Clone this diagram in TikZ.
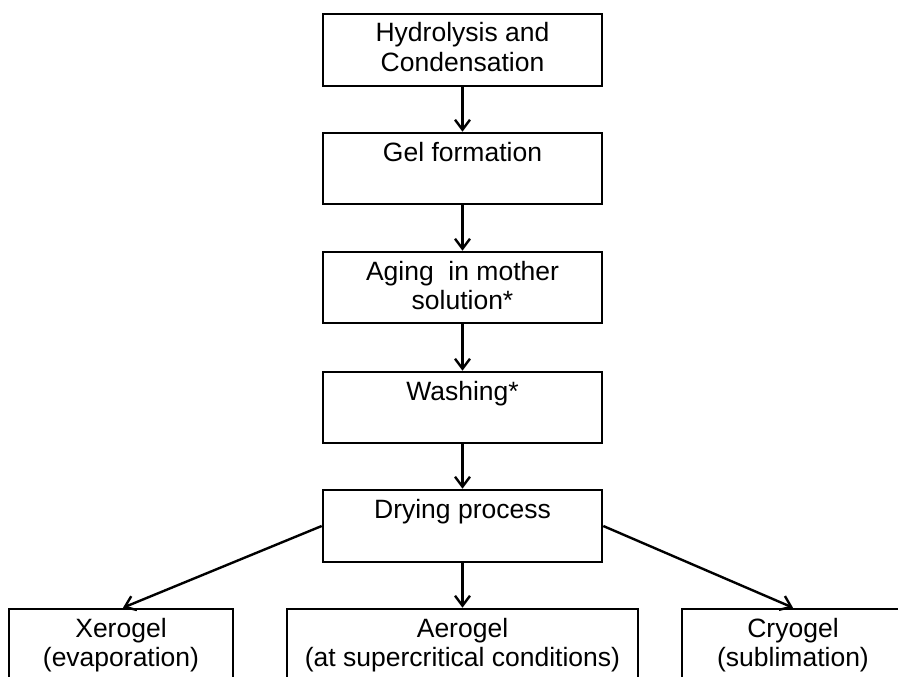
\documentclass[tikz,border=0pt]{standalone}
\usepackage{fontspec}
\setmainfont{Liberation Sans}
\usetikzlibrary{arrows.meta}
\newcommand{\boxtext}[3]{\parbox[t][#1][t]{#2}{\centering\fontsize{26.5}{29.5}\selectfont\rule{0pt}{28pt}#3}}
\begin{document}
\begin{tikzpicture}[x=1pt,y=-1pt,
  box/.style={draw, line width=2.6pt, inner sep=0pt},
  arr/.style={line width=2.4pt, -{Straight Barb[length=10pt,width=15pt,line width=2.4pt]}}]
\fill[white] (0,0) rectangle (898,677);
\clip (0,0) rectangle (898,677);
\node[box] (b1) at (462.5,50) {\boxtext{72pt}{279pt}{Hydrolysis and\\Condensation}};
\node[box] (b2) at (462.5,168.5) {\boxtext{71pt}{279pt}{Gel formation}};
\node[box] (b3) at (462.5,287.5) {\boxtext{71pt}{279pt}{Aging\ \ in mother\\solution*}};
\node[box] (b4) at (462.5,407.5) {\boxtext{71pt}{279pt}{Washing*}};
\node[box] (b5) at (462.5,526) {\boxtext{72pt}{279pt}{Drying process}};
\node[box] (bl) at (121,654) {\boxtext{90pt}{224pt}{Xerogel\\(evaporation)}};
\node[box] (bm) at (462.5,654) {\boxtext{90pt}{351pt}{Aerogel\\(at supercritical conditions)}};
\node[box] (br) at (793,654) {\boxtext{90pt}{222pt}{Cryogel\\(sublimation)}};
\draw[arr] (b1) -- (b2);
\draw[arr] (b2) -- (b3);
\draw[arr] (b3) -- (b4);
\draw[arr] (b4) -- (b5);
\draw[arr] (b5.south) -- (bm.north);
\draw[arr] (b5.west) -- ([xshift=2pt]bl.north);
\draw[arr] (b5.east) -- (br.north);
\end{tikzpicture}
\end{document}
